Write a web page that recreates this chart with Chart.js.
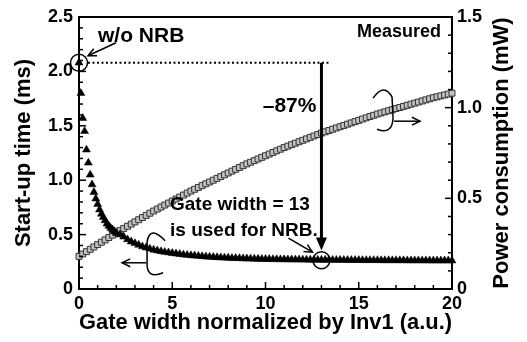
<!DOCTYPE html>
<html>
<head>
<meta charset="utf-8">
<script src="https://cdn.jsdelivr.net/npm/chart.js@4.4.1/dist/chart.umd.min.js"></script>
<style>
  html, body { margin: 0; padding: 0; background: #fff; }
  #wrap { width: 527px; height: 342px; }
</style>
</head>
<body>
<div id="wrap"><canvas id="chart"></canvas></div>
<script>
// --- values ---
// start-up time, fine steps near zero width
const earlyWidth = [0, 0.1, 0.2, 0.3, 0.4, 0.5, 0.6, 0.7, 0.8, 0.9, 1.0,
                    1.1, 1.2, 1.3, 1.4, 1.5, 1.6, 1.7, 1.8, 1.9, 2.0];
const earlyStartup = [2.08, 1.80, 1.57, 1.45, 1.28, 1.16, 1.05, 0.96, 0.89, 0.83, 0.78,
                      0.73, 0.69, 0.66, 0.63, 0.60, 0.58, 0.56, 0.545, 0.53, 0.515];

// shared width grid (0.2 steps)
const gateWidth = [
  0, 0.2, 0.4, 0.6, 0.8, 1, 1.2, 1.4, 1.6, 1.8, 2, 2.2, 2.4, 2.6, 2.8, 3, 3.2, 3.4, 3.6, 3.8,
  4, 4.2, 4.4, 4.6, 4.8, 5, 5.2, 5.4, 5.6, 5.8, 6, 6.2, 6.4, 6.6, 6.8, 7, 7.2, 7.4, 7.6, 7.8,
  8, 8.2, 8.4, 8.6, 8.8, 9, 9.2, 9.4, 9.6, 9.8, 10, 10.2, 10.4, 10.6, 10.8, 11, 11.2, 11.4, 11.6, 11.8,
  12, 12.2, 12.4, 12.6, 12.8, 13, 13.2, 13.4, 13.6, 13.8, 14, 14.2, 14.4, 14.6, 14.8, 15, 15.2, 15.4, 15.6, 15.8,
  16, 16.2, 16.4, 16.6, 16.8, 17, 17.2, 17.4, 17.6, 17.8, 18, 18.2, 18.4, 18.6, 18.8, 19, 19.2, 19.4, 19.6, 19.8, 20
];
// start-up time (ms) for widths > 2
const lateStartup = [
  0.50, 0.48, 0.455, 0.435, 0.42, 0.405, 0.39, 0.38, 0.37, 0.36,
  0.353, 0.346, 0.34, 0.335, 0.33, 0.325, 0.32, 0.316, 0.312, 0.309,
  0.306, 0.303, 0.30, 0.298, 0.295, 0.293, 0.291, 0.289, 0.287, 0.286,
  0.284, 0.283, 0.282, 0.28, 0.279, 0.278, 0.277, 0.276, 0.275, 0.275,
  0.274, 0.273, 0.273, 0.272, 0.272, 0.271, 0.271, 0.27, 0.27, 0.269,
  0.269, 0.268, 0.268, 0.268, 0.267, 0.267, 0.267, 0.266, 0.266, 0.266,
  0.266, 0.265, 0.265, 0.265, 0.265, 0.264, 0.264, 0.264, 0.264, 0.264,
  0.263, 0.263, 0.263, 0.263, 0.263, 0.263, 0.263, 0.262, 0.262, 0.262,
  0.262, 0.262, 0.262, 0.261, 0.261, 0.261, 0.261, 0.261, 0.261, 0.261
];
// power consumption (mW)
const powerConsumption = [
  0.18, 0.193, 0.206, 0.219, 0.232, 0.245, 0.258, 0.271, 0.284, 0.297,
  0.31, 0.322, 0.334, 0.346, 0.358, 0.37, 0.382, 0.394, 0.406, 0.418,
  0.43, 0.441, 0.452, 0.463, 0.474, 0.485, 0.496, 0.507, 0.518, 0.529,
  0.54, 0.55, 0.56, 0.57, 0.58, 0.59, 0.60, 0.61, 0.62, 0.63,
  0.64, 0.65, 0.66, 0.67, 0.68, 0.69, 0.699, 0.708, 0.717, 0.726,
  0.735, 0.744, 0.753, 0.762, 0.771, 0.78, 0.788, 0.796, 0.804, 0.812,
  0.82, 0.828, 0.836, 0.844, 0.852, 0.86, 0.867, 0.874, 0.881, 0.888,
  0.895, 0.902, 0.909, 0.916, 0.923, 0.93, 0.937, 0.944, 0.951, 0.958,
  0.965, 0.971, 0.977, 0.983, 0.989, 0.995, 1.001, 1.007, 1.013, 1.019,
  1.025, 1.031, 1.037, 1.043, 1.049, 1.055, 1.06, 1.065, 1.07, 1.075, 1.08
];

const xTicks = [0, 5, 10, 15, 20];
const NRB_WIDTH = 13;
const NO_NRB_TIME = 2.08;
const NRB_TIME = 0.265;

const FONT = "'Liberation Sans', Arial, sans-serif";

const lateWidth = gateWidth.filter(w => w > 2);
const startupPts = earlyWidth.map((w, i) => ({ x: w, y: earlyStartup[i] }))
  .concat(lateWidth.map((w, i) => ({ x: w, y: lateStartup[i] })));
const powerPts = gateWidth.map((w, i) => ({ x: w, y: powerConsumption[i] }));

const fmt = v => v === 0 ? '0' : v.toFixed(1);

function line(ctx, x0, y0, x1, y1) {
  ctx.beginPath(); ctx.moveTo(x0, y0); ctx.lineTo(x1, y1); ctx.stroke();
}
function head(ctx, x0, y0, x1, y1, size, filled) {
  const a = Math.atan2(y1 - y0, x1 - x0);
  ctx.beginPath();
  ctx.moveTo(x1 - size * Math.cos(a - 0.45), y1 - size * Math.sin(a - 0.45));
  ctx.lineTo(x1, y1);
  ctx.lineTo(x1 - size * Math.cos(a + 0.45), y1 - size * Math.sin(a + 0.45));
  if (filled) { ctx.closePath(); ctx.fill(); } else { ctx.stroke(); }
}

// inward tick marks + top frame
const frameTicks = {
  id: 'frameTicks',
  afterDatasetsDraw(chart) {
    const { ctx, chartArea: a, scales: { x, y, y1 } } = chart;
    ctx.save();
    ctx.strokeStyle = '#000';
    ctx.lineWidth = 2;
    line(ctx, a.left - 1, a.top, a.right + 1, a.top);
    ctx.lineWidth = 1.5;
    for (let i = 0; i <= 20; i++) {
      const px = x.getPixelForValue(i);
      line(ctx, px, a.bottom, px, a.bottom - (i % 5 === 0 ? 7 : 4));
    }
    for (let i = 0; i <= 25; i++) {
      const py = y.getPixelForValue(i / 10);
      line(ctx, a.left, py, a.left + (i % 5 === 0 ? 7 : 4), py);
    }
    for (let i = 0; i <= 15; i++) {
      const py = y1.getPixelForValue(i / 10);
      line(ctx, a.right, py, a.right - (i % 5 === 0 ? 7 : 4), py);
    }
    ctx.restore();
  }
};

// annotations: circles, arrows, brackets, labels
const notes = {
  id: 'notes',
  afterDatasetsDraw(chart) {
    const { ctx, chartArea: a, scales: { x, y } } = chart;
    const X = v => x.getPixelForValue(v), Y = v => y.getPixelForValue(v);
    ctx.save();
    ctx.strokeStyle = '#000';
    ctx.fillStyle = '#000';

    // w/o NRB
    const c1x = X(0), c1y = Y(NO_NRB_TIME);
    ctx.lineWidth = 1.5;
    ctx.beginPath(); ctx.arc(c1x, c1y, 8.5, 0, Math.PI * 2); ctx.stroke();
    line(ctx, c1x + 37, c1y - 20, c1x + 9, c1y - 7);
    head(ctx, c1x + 37, c1y - 20, c1x + 9, c1y - 7, 9, false);
    ctx.font = `bold 21px ${FONT}`;
    ctx.textAlign = 'left'; ctx.textBaseline = 'middle';
    ctx.fillText('w/o NRB', c1x + 19, c1y - 26);

    // dotted level
    ctx.lineWidth = 2;
    ctx.setLineDash([2, 2.5]);
    line(ctx, c1x + 9, c1y, X(13.45), c1y);
    ctx.setLineDash([]);

    // -87% arrow
    const vx = X(NRB_WIDTH), tipY = Y(0.355);
    ctx.lineWidth = 3;
    line(ctx, vx, c1y, vx, tipY - 10);
    ctx.beginPath();
    ctx.moveTo(vx - 5.5, tipY - 13); ctx.lineTo(vx + 5.5, tipY - 13); ctx.lineTo(vx, tipY);
    ctx.closePath(); ctx.fill();
    ctx.font = `bold 21px ${FONT}`;
    ctx.textAlign = 'right';
    ctx.fillText('\u201387%', vx - 5, Y(1.68));

    // NRB point
    const c2y = Y(NRB_TIME);
    ctx.lineWidth = 1.5;
    ctx.beginPath(); ctx.arc(vx, c2y, 8.5, 0, Math.PI * 2); ctx.stroke();
    line(ctx, vx - 33, c2y - 22, vx - 9, c2y - 8);
    head(ctx, vx - 33, c2y - 22, vx - 9, c2y - 8, 9, false);
    ctx.font = `bold 19px ${FONT}`;
    ctx.textAlign = 'left';
    ctx.fillText('Gate width = 13', X(4.88), Y(0.772));
    ctx.fillText('is used for NRB.', X(4.88), Y(0.533));

    // Measured
    ctx.font = `bold 18px ${FONT}`;
    ctx.textAlign = 'right';
    ctx.fillText('Measured', a.right - 11, a.top + 15);

    // left bracket -> start-up axis
    let bx = X(3.65), by = Y(0.25);
    ctx.lineWidth = 1.5;
    ctx.beginPath();
    ctx.moveTo(bx + 18, by - 21);
    ctx.quadraticCurveTo(bx + 3, by - 37, bx, by - 20);
    ctx.lineTo(bx, by);
    ctx.quadraticCurveTo(bx - 1, by + 18, bx + 16, by + 11);
    ctx.stroke();
    line(ctx, bx - 1, by + 1, bx - 25, by + 1);
    head(ctx, bx - 1, by + 1, bx - 25, by + 1, 9, false);

    // right bracket -> power axis
    bx = X(16.84); by = Y(1.57);
    ctx.beginPath();
    ctx.moveTo(bx - 20, by - 20);
    ctx.quadraticCurveTo(bx - 9, by - 36, bx - 1, by - 21);
    ctx.lineTo(bx, by);
    ctx.quadraticCurveTo(bx - 1, by + 17, bx - 16, by + 11);
    ctx.stroke();
    line(ctx, bx + 1, by + 3, bx + 27, by + 3);
    head(ctx, bx + 1, by + 3, bx + 27, by + 3, 9, false);

    // right axis title, reading bottom to top
    ctx.translate(a.right + 50, (a.top + a.bottom) / 2);
    ctx.rotate(-Math.PI / 2);
    ctx.font = `bold 22px ${FONT}`;
    ctx.textAlign = 'center';
    ctx.fillText('Power consumption (mW)', 0, 0);
    ctx.restore();
  }
};

const tickFont = { family: FONT, size: 18, weight: 'bold' };
const titleFont = { family: FONT, size: 22, weight: 'bold' };
const noGrid = { display: false, drawTicks: false };

new Chart(document.getElementById('chart'), {
  type: 'scatter',
  data: {
    datasets: [
      {
        label: 'Start-up time',
        data: startupPts,
        yAxisID: 'y',
        pointStyle: 'triangle',
        pointRadius: 4.6,
        backgroundColor: '#000',
        borderColor: '#000',
        borderWidth: 0.5,
        clip: false
      },
      {
        label: 'Power consumption',
        data: powerPts,
        yAxisID: 'y1',
        pointStyle: 'rect',
        pointRadius: 4.2,
        backgroundColor: '#c2c2c2',
        borderColor: '#333',
        borderWidth: 1,
        clip: false
      }
    ]
  },
  options: {
    responsive: true,
    maintainAspectRatio: false,
    animation: false,
    layout: { padding: { top: 17, left: 0, right: 0, bottom: 0 } },
    plugins: { legend: { display: false }, tooltip: { enabled: false } },
    scales: {
      x: {
        type: 'linear', min: 0, max: 20,
        afterBuildTicks: s => { s.ticks = xTicks.map(v => ({ value: v })); },
        afterFit: s => { s.height = 53; },
        grid: noGrid,
        border: { color: '#000', width: 2 },
        ticks: { color: '#000', font: tickFont, padding: 4, maxRotation: 0 },
        title: { display: true, text: 'Gate width normalized by Inv1 (a.u.)', color: '#000',
                 font: titleFont, padding: { top: 0, bottom: 6 } }
      },
      y: {
        position: 'left', min: 0, max: 2.5,
        afterFit: s => { s.width = 79; },
        grid: noGrid,
        border: { color: '#000', width: 2 },
        ticks: { stepSize: 0.5, color: '#000', font: tickFont, padding: 6, callback: fmt },
        title: { display: true, text: 'Start-up time (ms)', color: '#000',
                 font: titleFont, padding: { top: 11, bottom: 0 } }
      },
      y1: {
        position: 'right', min: 0, max: 1.5,
        afterFit: s => { s.width = 75; },
        grid: noGrid,
        border: { color: '#000', width: 2 },
        ticks: { stepSize: 0.5, color: '#000', font: tickFont, padding: 5, callback: fmt }
      }
    }
  },
  plugins: [frameTicks, notes]
});
</script>
</body>
</html>
